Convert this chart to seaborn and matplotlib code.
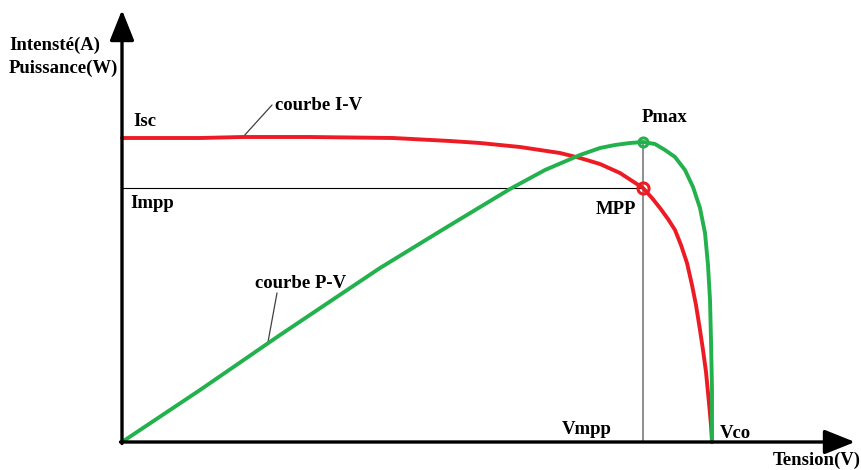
import matplotlib
matplotlib.use("Agg")
import matplotlib.pyplot as plt
import seaborn as sns
import pandas as pd

# ---- data (units: tension V*10, intensity/power scaled to same axis) ----
iv_v = [0.0, 7.8, 12.1, 18.8, 27.1, 32.8, 35.8, 39.8, 41.8, 43.8, 45.8, 47.8,
        49.8, 52.1, 53.0, 53.8, 54.6, 55.3, 55.9, 56.5, 57.0, 57.4, 57.8,
        58.1, 58.4, 58.7, 58.9, 59.0]
iv_i = [30.4, 30.4, 30.5, 30.5, 30.4, 30.1, 29.9, 29.5, 29.2, 28.9, 28.4, 27.8,
        26.9, 25.4, 24.4, 23.4, 22.3, 21.2, 19.7, 17.9, 15.7, 13.7, 11.2,
        9.2, 7.0, 3.9, 1.7, 0.0]

pv_v = [0.0, 7.8, 15.8, 25.8, 32.5, 38.8, 42.3, 45.8, 47.8, 49.3, 50.8, 52.1,
        53.3, 54.3, 55.3, 56.3, 57.1, 57.8, 58.3, 58.6, 58.8, 58.9, 59.0, 59.0]
pv_p = [0.0, 5.2, 10.7, 17.4, 21.5, 25.3, 27.2, 28.7, 29.4, 29.7, 29.9, 30.0,
        29.8, 29.2, 28.5, 27.2, 25.5, 23.4, 20.9, 17.7, 14.2, 10.2, 5.2, 0.0]

v_mpp, i_mpp, p_max, i_sc, v_co = 52.1, 25.4, 30.0, 30.4, 59.0

iv = pd.DataFrame({"V": iv_v, "I": iv_i})
pv = pd.DataFrame({"V": pv_v, "P": pv_p})

sns.set_style("white")
plt.rcParams["font.family"] = ["Liberation Serif", "DejaVu Serif"]

fig = plt.figure(figsize=(8.61, 4.70), dpi=100)
ax = fig.add_axes([0, 0, 1, 1])
ax.set_xlim(-12.2, 73.9)
ax.set_ylim(-2.8, 44.2)
ax.axis("off")

red = "#ED1C24"
green = "#22B14C"

# reference lines
ax.plot([0, v_mpp], [i_mpp, i_mpp], color="black", lw=0.8, zorder=2)
ax.plot([v_mpp, v_mpp], [0, p_max], color="#707070", lw=1.1, zorder=2)

sns.lineplot(data=iv, x="V", y="I", sort=False, estimator=None, color=red,
             lw=2.8, ax=ax, zorder=3, solid_joinstyle="round")
sns.lineplot(data=pv, x="V", y="P", sort=False, estimator=None, color=green,
             lw=2.8, ax=ax, zorder=4, solid_joinstyle="round")

ax.plot([v_mpp], [i_mpp], marker="o", ms=8, mfc="none", mec=red, mew=2.2, zorder=5)
ax.plot([v_mpp], [p_max], marker="o", ms=6.5, mfc="none", mec=green, mew=2.2, zorder=5)

# axes with arrows
arrow = dict(arrowstyle="-|>,head_length=0.75,head_width=0.3", lw=2.4,
             color="black", mutation_scale=25, shrinkA=0, shrinkB=0)
ax.annotate("", xy=(73.3, 0), xytext=(-0.15, 0), arrowprops=arrow, zorder=6)
ax.annotate("", xy=(0, 43.2), xytext=(0, -0.15), arrowprops=arrow, zorder=6)

tk = dict(fontweight="bold", fontsize=13.5, color="black")
ax.text(-11.3, 39.7, "Intensté(A)", ha="left", va="center", **tk)
ax.text(-11.3, 37.4, "Puissance(W)", ha="left", va="center", **tk)
ax.text(1.1, 32.0, "Isc", ha="left", va="center", **tk)
ax.text(0.8, 23.9, "Impp", ha="left", va="center", **tk)
ax.text(15.3, 33.7, "courbe I-V", ha="left", va="center", **tk)
ax.text(13.3, 15.9, "courbe P-V", ha="left", va="center", **tk)
ax.text(52.0, 32.5, "Pmax", ha="left", va="center", **tk)
ax.text(47.4, 23.2, "MPP", ha="left", va="center", **tk)
ax.text(44.0, 1.2, "Vmpp", ha="left", va="center", **tk)
ax.text(59.8, 0.8, "Vco", ha="left", va="center", **tk)
ax.text(65.1, -1.8, "Tension(V)", ha="left", va="center", **tk)

# leader lines
ax.plot([12.1, 15.0], [30.5, 33.7], color="#404040", lw=0.9, zorder=2)
ax.plot([15.5, 14.6], [14.9, 10.0], color="#404040", lw=0.9, zorder=2)

fig.savefig("out.png", dpi=100)
